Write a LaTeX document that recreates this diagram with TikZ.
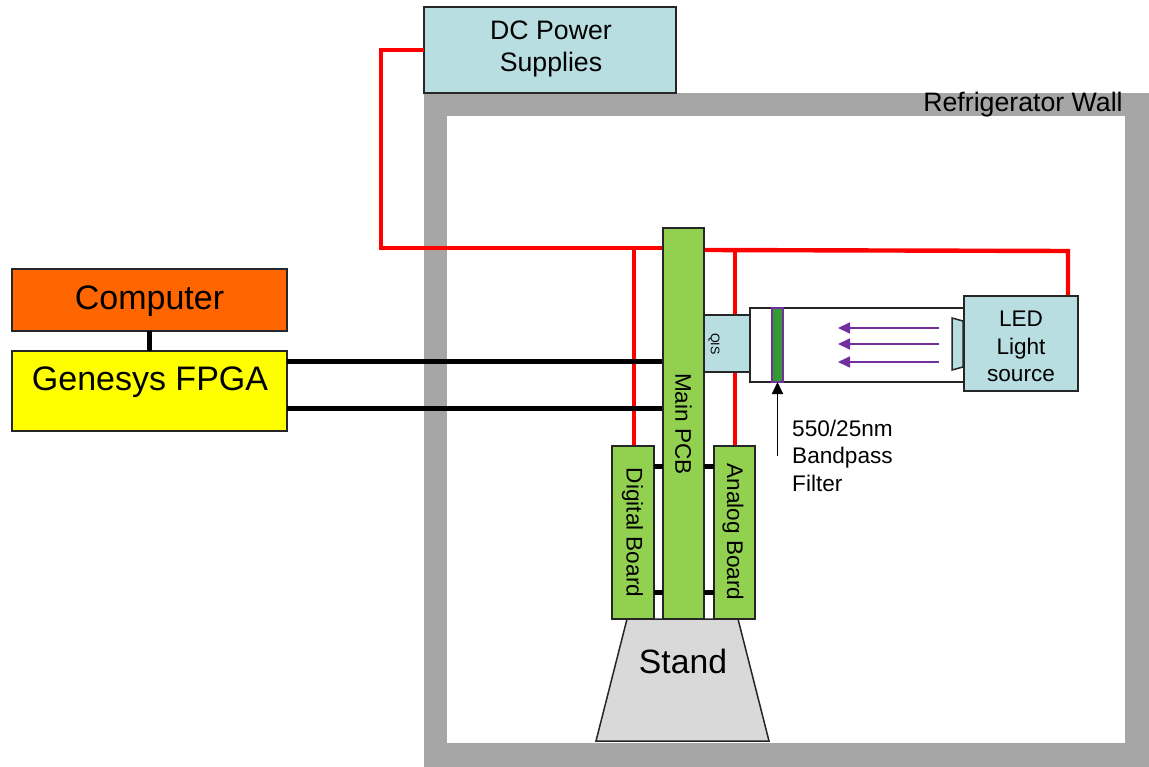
\documentclass[tikz,border=0pt]{standalone}
\usepackage{fontspec}
\setmainfont{Liberation Sans}
\usetikzlibrary{arrows.meta}
\definecolor{wallgray}{HTML}{A6A6A6}
\definecolor{paleblue}{HTML}{B9DEE2}
\definecolor{boardgreen}{HTML}{92D050}
\definecolor{compor}{HTML}{FF6600}
\definecolor{fpgayellow}{HTML}{FFFF00}
\definecolor{standgray}{HTML}{D9D9D9}
\definecolor{filtgreen}{HTML}{339933}
\definecolor{purp}{HTML}{7030A0}
\definecolor{linered}{HTML}{FF0000}
\newcommand{\fs}[1]{\fontsize{#1}{#1}\selectfont}
\tikzset{
  box/.style={draw=black!85,line width=1.5pt,inner sep=0pt,outer sep=0pt},
  plain/.style={inner sep=0pt,outer sep=0pt},
  power/.style={draw=linered,line width=4.4pt},
  signal/.style={draw=black,line width=5pt},
  ray/.style={draw=purp,line width=1.7pt,-{Triangle[length=12pt,width=11pt]}},
  txt/.style={inner sep=0pt,text=black,align=center},
  vert/.style={txt,rotate=-90},
}
\begin{document}
\begin{tikzpicture}[x=1pt,y=-1pt]
\useasboundingbox (0,0) rectangle (1149,767);
% wall
\node[plain,fill=wallgray,minimum width=725pt,minimum height=674pt] (wall) at (786.5,430) {};
\node[plain,fill=white,minimum width=678pt,minimum height=627pt] (room) at (786,429.5) {};
\node[txt,font=\fs{26.7}] (walllabel) at (1023,105) {Refrigerator Wall};
% boxes
\node[box,fill=paleblue,minimum width=252pt,minimum height=86pt] (dc) at (550,50) {};
\node[txt,font=\fs{26.7}] (dc1) at (551,30.5) {DC Power};
\node[txt,font=\fs{26.7}] (dc2) at (551,65) {Supplies};
\node[box,fill=compor,minimum width=275pt,minimum height=62pt] (computer) at (149.5,300) {};
\node[txt,font=\fs{34}] (computerlabel) at (149.5,301.5) {Computer};
\node[box,fill=fpgayellow,minimum width=275pt,minimum height=80pt] (fpga) at (149.5,391) {};
\node[txt,font=\fs{34}] (fpgalabel) at (150,382) {Genesys FPGA};
% power wiring
\coordinate (bend) at (381,248);
\coordinate (ledtap) at (1068,296);
\coordinate (trunkL) at (634,248);
\coordinate (trunkR) at (735,250);
\coordinate (pcbleft) at (663,248);
\coordinate (pcbright) at (704,250);
\coordinate (ledcorner) at (1068,251);
\coordinate (digtop) at (634,446);
\coordinate (anatop) at (735,446);
\coordinate (fpgaTop) at (287,362);
\coordinate (fpgaBot) at (287,408);
\coordinate (pcbTop) at (663,362);
\coordinate (pcbBot) at (663,408);
\draw[power] (dc.west) -| (bend) -- (pcbleft);
\draw[power] (pcbright) -- (ledcorner) -- (ledtap);
\draw[power] (trunkL) -- (digtop);
\draw[power] (trunkR) -- (anatop);
% signal wiring
\draw[signal] (computer.south) -- (fpga.north);
\draw[signal] (fpgaTop) -- (pcbTop);
\draw[signal] (fpgaBot) -- (pcbBot);
% boards
\node[box,fill=boardgreen,minimum width=41pt,minimum height=391pt] (main) at (683.5,423.5) {};
\node[box,fill=boardgreen,minimum width=42pt,minimum height=173pt] (digital) at (633,532.5) {};
\node[box,fill=boardgreen,minimum width=41pt,minimum height=173pt] (analog) at (734.5,532.5) {};
\node[vert,font=\fs{22.6}] (mainlabel) at (683.5,424) {Main PCB};
\node[vert,font=\fs{22.6}] (digitallabel) at (632.5,532.5) {Digital Board};
\node[vert,font=\fs{22.6}] (analoglabel) at (733,532) {Analog Board};
\coordinate (dA) at (654,466);\coordinate (mA) at (663,466);
\coordinate (dB) at (654,592);\coordinate (mB) at (663,592);
\coordinate (nA) at (704,466);\coordinate (aA) at (714,466);
\coordinate (nB) at (704,592);\coordinate (aB) at (714,592);
\draw[signal] (dA) -- (mA);
\draw[signal] (dB) -- (mB);
\draw[signal] (nA) -- (aA);
\draw[signal] (nB) -- (aB);
% stand
\draw[box,fill=standgray] (627,619) -- (738,619) -- (769,741) -- (596,741) -- cycle;
\node[txt,font=\fs{33.7}] (standlabel) at (683,661) {Stand};
% optics
\node[box,fill=paleblue,minimum width=46pt,minimum height=57pt] (qis) at (727,343.5) {};
\node[vert,font=\fs{12.5}] (qislabel) at (714,344) {QIS};
\node[box,fill=white,minimum width=214pt,minimum height=74pt] (tube) at (857,345) {};
\node[plain,draw=purp,line width=1.5pt,fill=filtgreen,minimum width=11pt,minimum height=74pt] (filter) at (777.5,345) {};
\draw[box,fill=paleblue] (963,321) -- (952,318) -- (952,370) -- (963,367) -- cycle;
\node[box,fill=paleblue,minimum width=114pt,minimum height=95pt] (led) at (1021,343.5) {};
\node[txt,font=\fs{22.6}] (ledA) at (1021,319) {LED};
\node[txt,font=\fs{22.6}] (ledB) at (1021,349) {Light};
\node[txt,font=\fs{22.6}] (ledC) at (1021,376) {source};
\coordinate (r1s) at (939,328);\coordinate (r1e) at (838,328);
\coordinate (r2s) at (939,344);\coordinate (r2e) at (838,344);
\coordinate (r3s) at (939,362);\coordinate (r3e) at (838,362);
\draw[ray] (r1s) -- (r1e);
\draw[ray] (r2s) -- (r2e);
\draw[ray] (r3s) -- (r3e);
% filter note
\node[txt,anchor=west,font=\fs{22.6}] (f1) at (792,428) {550/25nm};
\node[txt,anchor=west,font=\fs{22.6}] (f2) at (792,458) {Bandpass};
\node[txt,anchor=west,font=\fs{22.6}] (f3) at (792,483) {Filter};
\coordinate (notefoot) at (777.5,456);
\draw[draw=black,line width=1.8pt,-{Triangle[length=12pt,width=11pt]}] (notefoot) -- (filter.south);
\end{tikzpicture}
\end{document}
